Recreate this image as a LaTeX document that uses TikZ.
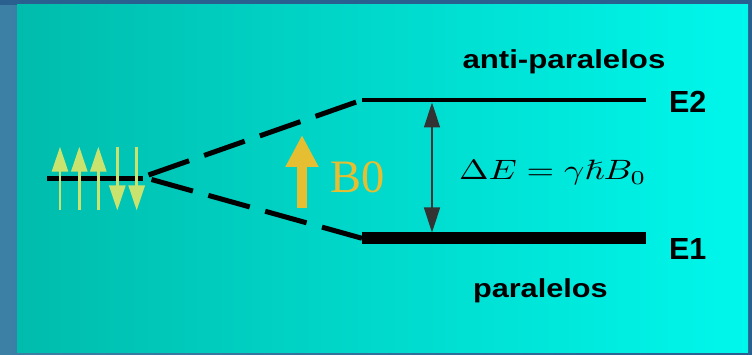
\documentclass[tikz,border=0pt]{standalone}
\usepackage{amssymb}
\usepackage[no-math]{fontspec}
\setmainfont{Liberation Serif}
\newfontfamily\arialfont{Liberation Sans}
\usetikzlibrary{arrows.meta}
\definecolor{outerblue}{HTML}{3C80A6}
\definecolor{outertop}{HTML}{2A6090}
\definecolor{panelleft}{HTML}{00BCAC}
\definecolor{panelright}{HTML}{00F7EC}
\definecolor{spincol}{HTML}{C8E46E}
\definecolor{bcol}{HTML}{E6BE32}
\definecolor{dcol}{HTML}{333333}
\tikzset{
  level/.style={line width=#1, black},
  dashedlink/.style={line width=5pt, black, dash pattern=on 43pt off 16pt},
  spinarrow/.style={line width=2.7pt, spincol, -{Triangle[length=25pt,width=16pt]}},
  gaparrow/.style={line width=1.5pt, dcol, {Triangle[length=25pt,width=16pt]}-{Triangle[length=25pt,width=16pt]}},
  fieldarrow/.style={line width=10pt, bcol, -{Triangle[length=32pt,width=31pt]}},
  lbl/.style={inner sep=0pt, outer sep=0pt},
}
\begin{document}
\begin{tikzpicture}[x=1pt,y=-1pt]
\useasboundingbox (0,0) rectangle (752,355);
% background
\fill[left color=outerblue, right color=outertop] (0,0) rectangle (752,355);
\fill[outertop] (0,0) rectangle (752,5);
\shade[left color=panelleft, right color=panelright] (17,5) rectangle (748,352);
% levels
\coordinate (s0) at (47,178.5);
\coordinate (s1) at (143,178.5);
\coordinate (u0) at (148.5,175);
\coordinate (l0) at (151.5,179.5);
\coordinate (e2a) at (362,100);
\coordinate (e2b) at (646,100);
\coordinate (e1a) at (362,238.3);
\coordinate (e1b) at (646,238.3);
\draw[level=5pt] (s0) -- (s1);
\draw[level=4pt] (e2a) -- (e2b);
\draw[level=12pt] (e1a) -- (e1b);
\draw[dashedlink] (u0) -- (e2a);
\draw[dashedlink] (l0) -- (e1a);
% spins
\foreach \x [count=\i] in {60,79.3,98.3}{
  \coordinate (ub\i) at (\x,210);
  \coordinate (ut\i) at (\x,146.7);
  \draw[spinarrow] (ub\i) -- (ut\i);
}
\foreach \x [count=\i] in {117.3,136.7}{
  \coordinate (dt\i) at (\x,146.7);
  \coordinate (db\i) at (\x,210.5);
  \draw[spinarrow] (dt\i) -- (db\i);
}
% field arrow
\coordinate (fb) at (302,208.5);
\coordinate (ft) at (302,135);
\draw[fieldarrow] (fb) -- (ft);
\node[lbl, anchor=base west, text=bcol] (b0) at (330,192.7) {\fontsize{46.5}{50}\selectfont B0};
% energy gap arrow
\coordinate (ga) at (432,102.5);
\coordinate (gb) at (432,232.5);
\draw[gaparrow] (ga) -- (gb);
\node[lbl, anchor=base west] (eq) at (459,180) {\scalebox{3.55}[2.8]{\normalsize$\Delta E=\gamma\hslash B_0$}};
% labels
\node[lbl, anchor=base west] (anti) at (462.5,68.3) {\scalebox{1.2}[1]{\arialfont\bfseries\fontsize{26}{30}\selectfont anti-paralelos}};
\node[lbl, anchor=base west] (para) at (473,297.3) {\scalebox{1.18}[1]{\arialfont\bfseries\fontsize{26}{30}\selectfont paralelos}};
\node[lbl, anchor=base west] (E2) at (669,112.3) {\arialfont\bfseries\fontsize{30.5}{34}\selectfont E2};
\node[lbl, anchor=base west] (E1) at (669,259.3) {\arialfont\bfseries\fontsize{30.5}{34}\selectfont E1};
\end{tikzpicture}
\end{document}
